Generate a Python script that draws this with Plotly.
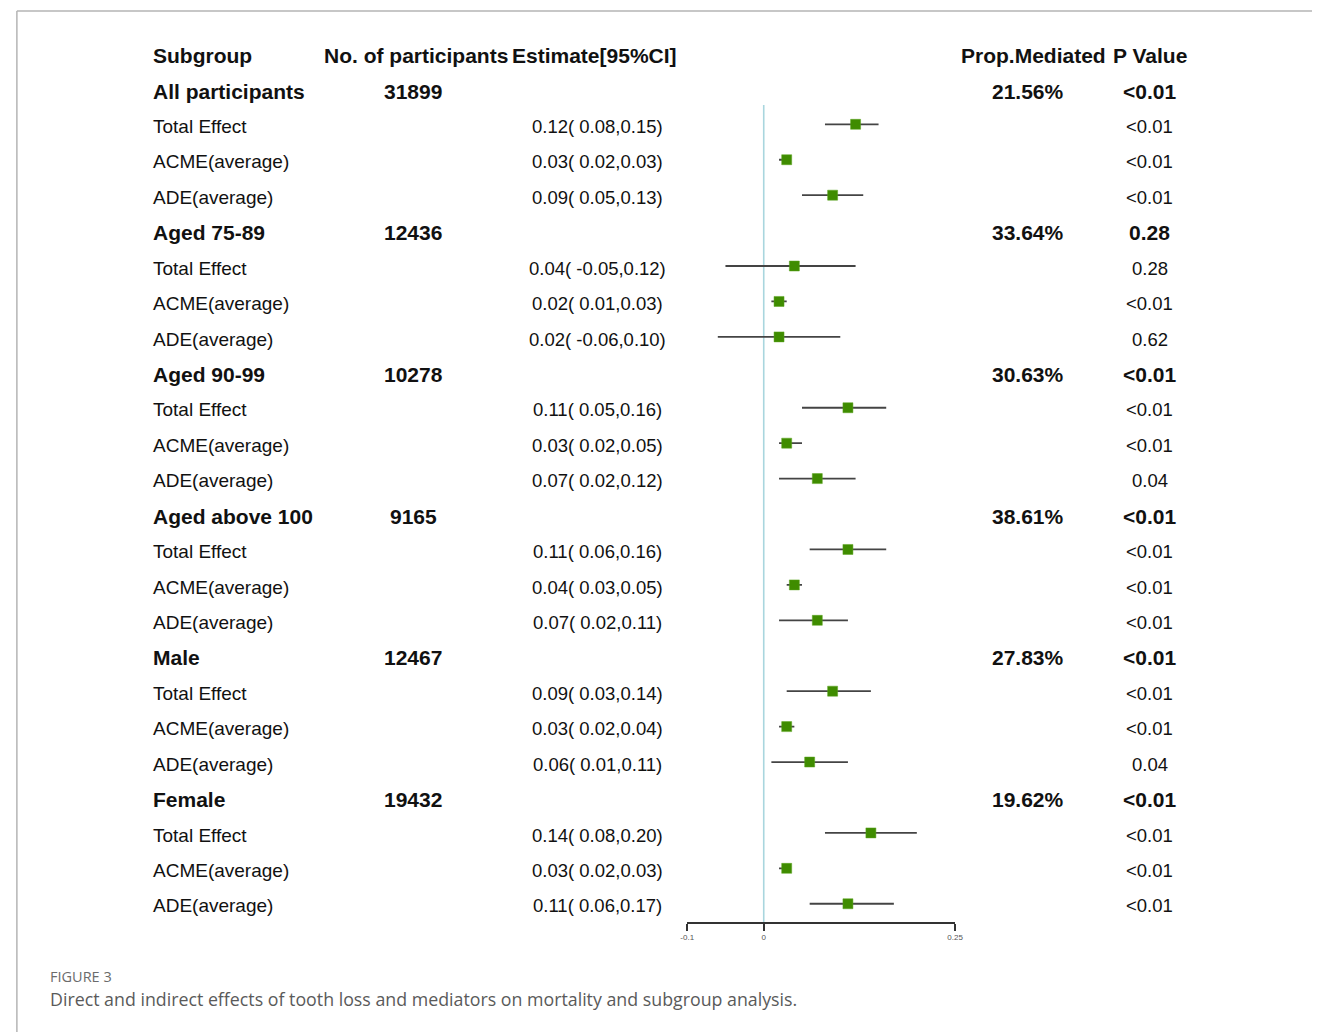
import plotly.graph_objects as go

W, H = 1320, 1032

# ---------------- data ----------------
groups = ["All participants", "Aged 75-89", "Aged 90-99", "Aged above 100", "Male", "Female"]
n_participants = [31899, 12436, 10278, 9165, 12467, 19432]
prop_mediated = ["21.56%", "33.64%", "30.63%", "38.61%", "27.83%", "19.62%"]
group_p = ["<0.01", "0.28", "<0.01", "<0.01", "<0.01", "<0.01"]

effects = ["Total Effect", "ACME(average)", "ADE(average)"]
est = [0.12, 0.03, 0.09,
       0.04, 0.02, 0.02,
       0.11, 0.03, 0.07,
       0.11, 0.04, 0.07,
       0.09, 0.03, 0.06,
       0.14, 0.03, 0.11]
lo = [0.08, 0.02, 0.05,
      -0.05, 0.01, -0.06,
      0.05, 0.02, 0.02,
      0.06, 0.03, 0.02,
      0.03, 0.02, 0.01,
      0.08, 0.02, 0.06]
hi = [0.15, 0.03, 0.13,
      0.12, 0.03, 0.10,
      0.16, 0.05, 0.12,
      0.16, 0.05, 0.11,
      0.14, 0.04, 0.11,
      0.20, 0.03, 0.17]
effect_p = ["<0.01", "<0.01", "<0.01",
            "0.28", "<0.01", "0.62",
            "<0.01", "<0.01", "0.04",
            "<0.01", "<0.01", "<0.01",
            "<0.01", "<0.01", "0.04",
            "<0.01", "<0.01", "<0.01"]
headers = ["Subgroup", "No. of participants", "Estimate[95%CI]", "Prop.Mediated", "P Value"]
tick_vals = [-0.1, 0, 0.25]
tick_text = ["-0.1", "0", "0.25"]

# ---------------- layout helpers ----------------
ROW0 = 91.0      # pixel of first data row
ROWH = 35.43     # pixel per row
def px_to_row(py):
    return 1 + (py - ROW0) / ROWH

def px(x):
    return x / W

def py(y):
    return (H - y) / H

FONT = "Liberation Sans, Arial, sans-serif"
TXT = "#111111"

row_idx = []
for g in range(len(groups)):
    for k in range(3):
        row_idx.append(2 + 4 * g + k)

fig = go.Figure()

# CI lines
xs, ys = [], []
for i in range(len(est)):
    xs += [lo[i], hi[i], None]
    ys += [row_idx[i] - 0.06, row_idx[i] - 0.06, None]
fig.add_trace(go.Scatter(x=xs, y=ys, mode="lines",
                         line=dict(color="#444444", width=1.8),
                         hoverinfo="skip", showlegend=False))
# point estimates
fig.add_trace(go.Scatter(x=est, y=[r - 0.06 for r in row_idx], mode="markers",
                         marker=dict(symbol="square", size=10, color="#3f8c00",
                                     line=dict(color="#5aa51e", width=0.5)),
                         showlegend=False))

# reference line at 0
fig.add_shape(type="line", xref="x", yref="y", x0=0, x1=0,
              y0=px_to_row(105), y1=px_to_row(923),
              line=dict(color="#a9d6de", width=1.6), layer="below")

ann = []
def add_text(x, y, text, size, bold=False, anchor="left", yref="y", color=TXT, family=FONT):
    ann.append(dict(x=x, y=y, xref="paper", yref=yref, text=f"<b>{text}</b>" if bold else text,
                    showarrow=False, xanchor=anchor, yanchor="middle",
                    font=dict(size=size, color=color, family=family)))

# headers (row 0 at pixel 55)
hy = px_to_row(55)
add_text(px(146), hy, headers[0], 21, True)
add_text(px(319), hy, headers[1], 21, True)
add_text(px(509), hy, headers[2], 21, True)
add_text(px(963), hy, headers[3], 21, True)
add_text(px(1117), hy, headers[4], 21, True)

for g in range(len(groups)):
    r = 1 + 4 * g
    add_text(px(146), r, groups[g], 21, True)
    add_text(px(411), r, str(n_participants[g]), 21, True, "center")
    add_text(px(1033), r, prop_mediated[g], 21, True, "center")
    add_text(px(1156), r, group_p[g], 21, True, "center")
    for k in range(3):
        i = 3 * g + k
        rr = row_idx[i]
        add_text(px(146), rr, effects[k], 19)
        add_text(px(597), rr, f"{est[i]:.2f}( {lo[i]:.2f},{hi[i]:.2f})", 18.5, False, "center")
        add_text(px(1156), rr, effect_p[i], 18.5, False, "center")

# caption
add_text(px(41), py(976), "FIGURE 3", 14.5, False, "left", "paper", "#6b6b6b", "Open Sans, sans-serif")
add_text(px(41), py(999), "Direct and indirect effects of tooth loss and mediators on mortality and subgroup analysis.",
         17.8, False, "left", "paper", "#5a5a5a", "Open Sans, sans-serif")

# frame
fig.add_shape(type="line", xref="paper", yref="paper", x0=px(10), x1=1.0, y0=py(11), y1=py(11),
              line=dict(color="#b5b5b5", width=1.5))
fig.add_shape(type="line", xref="paper", yref="paper", x0=px(10), x1=px(10), y0=py(11), y1=0,
              line=dict(color="#b5b5b5", width=1.5))

fig.update_layout(
    width=W, height=H, autosize=False, margin=dict(l=0, r=0, t=0, b=0),
    paper_bgcolor="white", plot_bgcolor="rgba(0,0,0,0)",
    annotations=ann, showlegend=False,
    xaxis=dict(domain=[px(688), px(959)], range=[-0.1, 0.25], anchor="free",
               position=(H - 923) / H, showline=True, linecolor="#333333", linewidth=1.5,
               ticks="outside", ticklen=7, tickwidth=1.5, tickcolor="#333333",
               tickvals=tick_vals, ticktext=tick_text,
               tickfont=dict(size=8, color="#555555", family=FONT),
               showgrid=False, zeroline=False, fixedrange=True),
    yaxis=dict(domain=[0, 1], range=[px_to_row(H), px_to_row(0)], visible=False,
               showgrid=False, zeroline=False, fixedrange=True),
)

fig.write_html("out.html",
               config={"responsive": False, "displayModeBar": False},
               post_script="document.body.style.margin='0';document.body.style.overflow='hidden';")
